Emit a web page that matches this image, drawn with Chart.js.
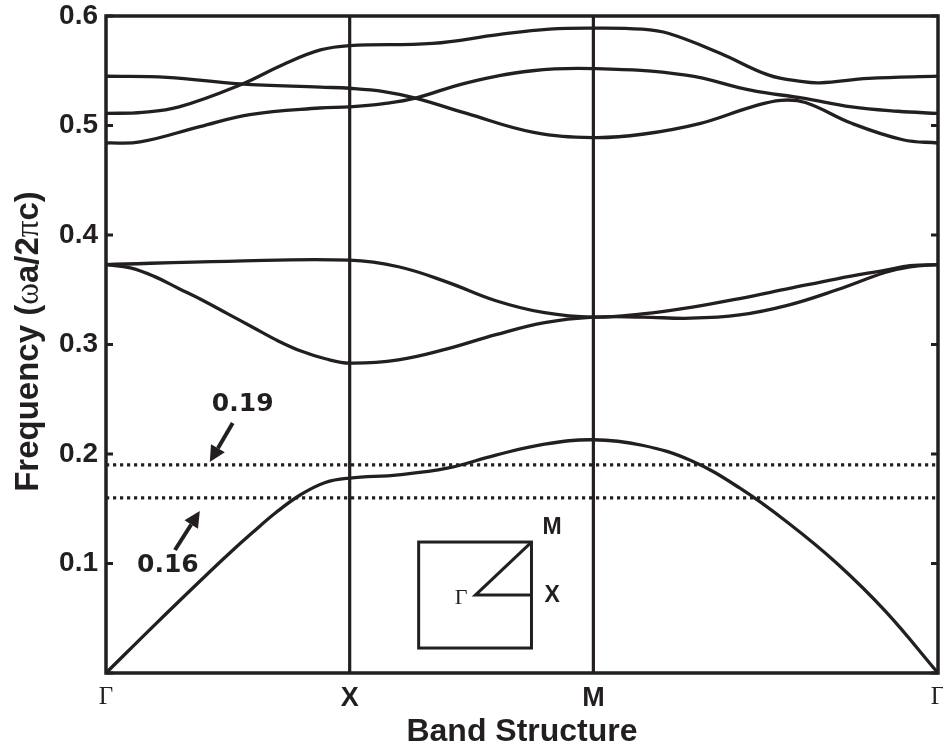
<!DOCTYPE html>
<html>
<head>
<meta charset="utf-8">
<script src="https://cdn.jsdelivr.net/npm/chart.js@4.4.1/dist/chart.umd.min.js"></script>
<style>
  body { margin: 0; background: #fff; }
  #wrap { width: 943px; height: 751px; }
</style>
</head>
<body>
<div id="wrap"><canvas id="bandChart" width="943" height="751"></canvas></div>
<script>
// path Γ-X-M-Γ, distance along path in units of 2π/a
const symLabels = ['Γ', 'X', 'M', 'Γ'];
const symPos = [0, 1, 2, 2 + Math.SQRT2];

// bands: [k, frequency ωa/2πc]
const band1 = [[0, 0], [0.2, 0.044], [0.4, 0.087], [0.5, 0.108], [0.6, 0.128], [0.7, 0.147],
  [0.8, 0.163], [0.9, 0.174], [1, 0.178],
  [1.2, 0.181], [1.4, 0.187], [1.6, 0.199], [1.8, 0.209], [2, 0.213],
  [2.2, 0.208], [2.4, 0.194], [2.6, 0.169], [2.8, 0.137], [3.0, 0.100], [3.2, 0.056], [3.414, 0]];
const band2 = [[0, 0.373], [0.1, 0.370], [0.2, 0.362], [0.3, 0.351], [0.4, 0.340], [0.5, 0.328], [0.6, 0.316],
  [0.7, 0.304], [0.8, 0.294], [0.9, 0.287], [1, 0.283],
  [1.2, 0.286], [1.4, 0.296], [1.6, 0.309], [1.8, 0.320], [2, 0.325],
  [2.2, 0.325], [2.4, 0.324], [2.6, 0.327], [2.8, 0.336], [3.0, 0.350], [3.2, 0.366], [3.3, 0.371], [3.414, 0.373]];
const band3 = [[0, 0.373], [0.5, 0.376], [1, 0.377],
  [1.2, 0.371], [1.4, 0.357], [1.6, 0.340], [1.8, 0.329], [2, 0.325],
  [2.2, 0.328], [2.4, 0.334], [2.6, 0.342], [2.8, 0.351], [3.0, 0.360], [3.2, 0.368], [3.3, 0.372], [3.414, 0.373]];
const band4 = [[0, 0.484], [0.14, 0.485], [0.385, 0.499], [0.59, 0.510], [0.877, 0.516], [1, 0.517],
  [1.14, 0.520], [1.27, 0.525], [1.48, 0.539], [1.75, 0.550], [2, 0.552],
  [2.38, 0.546], [2.65, 0.532], [2.86, 0.525], [3.06, 0.517], [3.25, 0.513], [3.414, 0.511]];
const band5 = [[0, 0.545], [0.25, 0.544], [0.55, 0.538], [0.88, 0.535], [1, 0.534],
  [1.14, 0.531], [1.27, 0.525], [1.48, 0.511], [1.75, 0.494], [2, 0.489],
  [2.2, 0.492], [2.44, 0.502], [2.65, 0.517], [2.77, 0.523], [2.87, 0.521], [3.06, 0.502], [3.27, 0.487], [3.414, 0.484]];
const band6 = [[0, 0.511], [0.15, 0.512], [0.3, 0.517], [0.55, 0.537], [0.73, 0.556], [0.88, 0.569], [1, 0.573],
  [1.34, 0.575], [1.61, 0.583], [1.82, 0.588], [2, 0.589],
  [2.2, 0.588], [2.31, 0.584], [2.52, 0.566], [2.72, 0.546], [2.86, 0.540], [2.93, 0.539], [3.13, 0.543], [3.414, 0.545]];
const bands = [band1, band2, band3, band4, band5, band6];

// dotted guide levels
const guideLevels = [0.19, 0.16];
const guideLabels = ['0.19', '0.16'];

const ink = '#231f20';

function bandDataset(points) {
    return {
        data: points.map(p => ({ x: p[0], y: p[1] })),
        borderColor: ink,
        borderWidth: 3.3,
        pointRadius: 0,
        tension: 0.4,
        fill: false
    };
}

const datasets = bands.map(bandDataset);

// vertical lines at X and M
[1, 2].forEach(i => {
    datasets.push({
        data: [{ x: symPos[i], y: 0 }, { x: symPos[i], y: 0.6 }],
        borderColor: ink, borderWidth: 3.2, pointRadius: 0, tension: 0
    });
});

// dotted lines
guideLevels.forEach(lv => {
    datasets.push({
        data: [{ x: 0, y: lv }, { x: symPos[3], y: lv }],
        borderColor: ink, borderWidth: 3.2, borderDash: [3.2, 3.8], borderCapStyle: 'butt',
        pointRadius: 0, tension: 0
    });
});

// annotation arrows in axis units: [text x, text y, tail x, tail y, tip x, tip y]
const arrowNotes = [
    [0.561, 0.245, 0.520, 0.2283, 0.426, 0.1927],
    [0.254, 0.0986, 0.283, 0.1123, 0.385, 0.1479]
];

// Brillouin zone inset, axis units
const insetBox = { x0: 1.283, x1: 1.746, y0: 0.0228, y1: 0.1196 };
const insetGamma = { x: 1.516, y: 0.0712 };

const extras = {
    id: 'extras',
    afterDatasetsDraw(chart) {
        const ctx = chart.ctx;
        const a = chart.chartArea;
        const xs = chart.scales.x, ys = chart.scales.y;
        const px = v => xs.getPixelForValue(v);
        const py = v => ys.getPixelForValue(v);
        ctx.save();
        ctx.strokeStyle = ink;
        ctx.fillStyle = ink;

        // inner tick marks, both sides
        ctx.lineWidth = 3;
        ys.ticks.forEach(t => {
            const y = py(t.value);
            ctx.beginPath();
            ctx.moveTo(a.left, y); ctx.lineTo(a.left + 7, y);
            ctx.moveTo(a.right, y); ctx.lineTo(a.right - 7, y);
            ctx.stroke();
        });

        // frame
        ctx.lineWidth = 3.5;
        ctx.strokeRect(a.left, a.top, a.right - a.left, a.bottom - a.top);

        // arrows + labels
        ctx.font = 'bold 25px "DejaVu Sans"';
        ctx.textAlign = 'center';
        ctx.textBaseline = 'middle';
        arrowNotes.forEach((n, i) => {
            ctx.fillText(guideLabels[i], px(n[0]), py(n[1]));
            const x0 = px(n[2]), y0 = py(n[3]), x1 = px(n[4]), y1 = py(n[5]);
            const ang = Math.atan2(y1 - y0, x1 - x0);
            const head = 16, half = 8;
            const bx = x1 - head * Math.cos(ang), by = y1 - head * Math.sin(ang);
            ctx.lineWidth = 4;
            ctx.beginPath();
            ctx.moveTo(x0, y0); ctx.lineTo(bx, by);
            ctx.stroke();
            ctx.beginPath();
            ctx.moveTo(x1, y1);
            ctx.lineTo(bx + half * Math.sin(ang), by - half * Math.cos(ang));
            ctx.lineTo(bx - half * Math.sin(ang), by + half * Math.cos(ang));
            ctx.closePath();
            ctx.fill();
        });

        // inset
        ctx.lineWidth = 3;
        ctx.strokeRect(px(insetBox.x0), py(insetBox.y1), px(insetBox.x1) - px(insetBox.x0), py(insetBox.y0) - py(insetBox.y1));
        ctx.beginPath();
        ctx.moveTo(px(insetBox.x1), py(insetBox.y1));
        ctx.lineTo(px(insetGamma.x), py(insetGamma.y));
        ctx.lineTo(px(insetBox.x1), py(insetGamma.y));
        ctx.stroke();
        ctx.font = 'bold 23px "Liberation Sans"';
        ctx.textAlign = 'left';
        ctx.fillText('M', px(insetBox.x1) + 11, py(insetBox.y1) - 14);
        ctx.fillText('X', px(insetBox.x1) + 13, py(insetGamma.y) + 1);
        ctx.font = '22px "Liberation Serif"';
        ctx.textAlign = 'right';
        ctx.fillText('Γ', px(insetGamma.x) - 8, py(insetGamma.y) + 3);

        // y axis title with mixed fonts
        const sz = 33;
        const parts = [['Frequency (', 'bold ' + sz + 'px "Liberation Sans"'], ['ω', sz + 'px "Liberation Serif"'],
            ['a/2', 'bold ' + sz + 'px "Liberation Sans"'], ['π', sz + 'px "Liberation Serif"'], ['c)', 'bold ' + sz + 'px "Liberation Sans"']];
        let total = 0;
        parts.forEach(p => { ctx.font = p[1]; total += ctx.measureText(p[0]).width; });
        ctx.translate(29, (a.top + a.bottom) / 2 - 3);
        ctx.rotate(-Math.PI / 2);
        ctx.textAlign = 'left';
        ctx.textBaseline = 'middle';
        let x = -total / 2;
        parts.forEach(p => {
            ctx.font = p[1];
            ctx.fillText(p[0], x, 0);
            x += ctx.measureText(p[0]).width;
        });
        ctx.restore();
    }
};

new Chart(document.getElementById('bandChart').getContext('2d'), {
    type: 'line',
    data: { datasets },
    options: {
        responsive: false,
        animation: false,
        layout: { padding: { top: 16, right: 5, left: 0, bottom: 0 } },
        plugins: { legend: { display: false }, tooltip: { enabled: false } },
        scales: {
            x: {
                type: 'linear', min: 0, max: symPos[3],
                afterBuildTicks: s => { s.ticks = symPos.map(v => ({ value: v })); },
                afterFit: s => { s.height = 78; s.paddingLeft = 0; s.paddingRight = 0; },
                grid: { display: false, drawTicks: false },
                border: { display: false },
                ticks: {
                    autoSkip: false, maxRotation: 0, padding: 9, color: ink,
                    callback: (v, i) => symLabels[i],
                    font: c => (c.index === 0 || c.index === 3)
                        ? { family: 'Liberation Serif', size: 25 }
                        : { family: 'Liberation Sans', size: 27, weight: 'bold' }
                },
                title: {
                    display: true, text: 'Band Structure', color: ink,
                    font: { family: 'Liberation Sans', size: 32, weight: 'bold' },
                    padding: { top: 0, bottom: 0 }
                }
            },
            y: {
                min: 0, max: 0.6,
                afterFit: s => { s.width = 106; s.paddingTop = 0; s.paddingBottom = 0; },
                grid: { display: false, drawTicks: false },
                border: { display: false },
                ticks: {
                    stepSize: 0.1, padding: 8, color: ink,
                    font: { family: 'Liberation Sans', size: 28, weight: 'bold' },
                    callback: v => Math.abs(v) < 1e-9 ? '' : v.toFixed(1)
                }
            }
        }
    },
    plugins: [extras]
});
</script>
</body>
</html>
